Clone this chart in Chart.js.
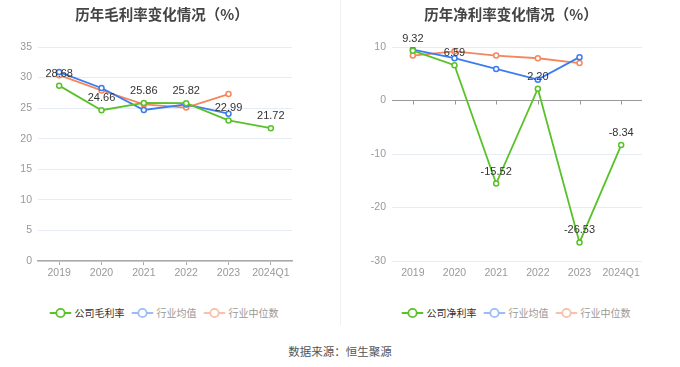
<!DOCTYPE html>
<html>
<head>
<meta charset="utf-8">
<script src="https://cdn.jsdelivr.net/npm/chart.js@4"></script>
<style>
  body { margin: 0; background: #fff; font-family: "Liberation Sans", "Noto Sans CJK SC", sans-serif; }
  #wrap { position: relative; width: 680px; height: 367px; overflow: hidden; }
  canvas { position: absolute; top: 0; }
  .title { position: absolute; top: 3px; font: bold 14.5px "Noto Sans CJK SC", sans-serif; color: #444; white-space: nowrap; transform: translateX(-50%); }
  .legend { position: absolute; top: 305px; display: flex; transform: translateX(-50%); white-space: nowrap; font: 10px "Noto Sans CJK SC", sans-serif; }
  .legend span { display: flex; align-items: center; margin-right: 7px; }
  .legend span:last-child { margin-right: 0; }
  .legend svg { margin-right: 3px; }
  #sep { position: absolute; left: 340px; top: 0; width: 1px; height: 325px; background: #f0f0f0; }
  #src { position: absolute; top: 343px; left: 340px; transform: translateX(-50%); font: 11.5px "Noto Sans CJK SC", sans-serif; color: #555; white-space: nowrap; }
</style>
</head>
<body>
<div id="wrap">
  <canvas id="gross" width="340" height="290" style="left:0"></canvas>
  <canvas id="net" width="340" height="290" style="left:340px"></canvas>
  <div class="title" style="left:162px">历年毛利率变化情况（%）</div>
  <div class="title" style="left:511px">历年净利率变化情况（%）</div>
  <div id="sep"></div>
  <div class="legend" id="legGross" style="left:164px"></div>
  <div class="legend" id="legNet" style="left:516px"></div>
  <div id="src">数据来源：恒生聚源</div>
</div>
<script>
var years = ["2019", "2020", "2021", "2022", "2023", "2024Q1"];

var grossCompany = [28.68, 24.66, 25.86, 25.82, 22.99, 21.72];
var grossAvg = [30.9, 28.3, 24.7, 25.6, 24.1, null];
var grossMedian = [30.4, 27.9, 25.6, 25.1, 27.3, null];

var netCompany = [9.32, 6.59, -15.52, 2.20, -26.53, -8.34];
var netAvg = [9.5, 7.9, 5.9, 3.9, 8.1, null];
var netMedian = [8.4, 9.2, 8.4, 7.9, 7.0, null];

var grossRange = [0, 35, 5];
var netRange = [-30, 10, 10];

var green = "#5ac229", blue = "#3b7cf0", orange = "#f5875d";

// value labels above the company line
var valueLabels = {
  id: "valueLabels",
  afterDatasetsDraw: function(chart) {
    var ctx = chart.ctx;
    var meta = chart.getDatasetMeta(0);
    var vals = chart.data.datasets[0].data;
    ctx.save();
    ctx.font = "11px 'Liberation Sans', sans-serif";
    ctx.fillStyle = "#333";
    ctx.textAlign = "center";
    ctx.textBaseline = "middle";
    meta.data.forEach(function(pt, i) {
      ctx.fillText(vals[i].toFixed(2), pt.x, pt.y - 12);
    });
    ctx.restore();
  }
};

// small tick marks on the zero line
var zeroTicks = {
  id: "zeroTicks",
  beforeDatasetsDraw: function(chart) {
    if (!chart.options.plugins.zeroTicks.on) return;
    var ctx = chart.ctx, x = chart.scales.x, y0 = chart.scales.y.getPixelForValue(0);
    ctx.save();
    ctx.strokeStyle = "#999";
    ctx.lineWidth = 1;
    for (var i = 0; i < years.length; i++) {
      var px = Math.round(x.getPixelForValue(i)) + 0.5;
      ctx.beginPath();
      ctx.moveTo(px, y0);
      ctx.lineTo(px, y0 + 4);
      ctx.stroke();
    }
    ctx.restore();
  }
};

function ds(label, data, color, order) {
  return {
    label: label, data: data, borderColor: color, backgroundColor: "#fff",
    borderWidth: 1.8, pointRadius: 2.5, pointBorderWidth: 1.5, pointBackgroundColor: "#fff",
    pointBorderColor: color, tension: 0, order: order, spanGaps: false
  };
}

function makeChart(id, names, company, avg, median, range, yWidth, padRight, zero) {
  return new Chart(id, {
    type: "line",
    data: {
      labels: years,
      datasets: [
        ds(names[0], company, green, 0),
        ds(names[1], avg, blue, 1),
        ds(names[2], median, orange, 2)
      ]
    },
    plugins: [valueLabels, zeroTicks],
    options: {
      responsive: false,
      animation: false,
      layout: { padding: { top: 47, right: padRight, left: 0, bottom: 0 } },
      plugins: {
        legend: { display: false },
        title: { display: false },
        tooltip: { enabled: false },
        zeroTicks: { on: zero }
      },
      scales: {
        x: {
          offset: true,
          grid: { display: !zero, drawOnChartArea: false, drawTicks: !zero, tickLength: 4, color: "#aaa", offset: false },
          border: { display: !zero, color: "#aaa", width: 1.5 },
          ticks: { color: "#999", padding: zero ? 6 : 2, minRotation: 0, maxRotation: 0, autoSkip: false,
                   font: { size: 10.5, family: "'Liberation Sans', sans-serif" } },
          afterFit: function(s) { s.height = 29; }
        },
        y: {
          min: range[0], max: range[1],
          ticks: { stepSize: range[2], color: "#999", padding: 6, font: { size: 10.5, family: "'Liberation Sans', sans-serif" } },
          grid: {
            drawTicks: false,
            color: function(c) { return zero && c.tick.value === 0 ? "#999" : "#e6ebf5"; }
          },
          border: { display: false },
          afterFit: function(s) { s.width = yWidth; }
        }
      }
    }
  });
}

var c1 = makeChart("gross", ["公司毛利率", "行业均值", "行业中位数"], grossCompany, grossAvg, grossMedian, grossRange, 38, 48, false);
var c2 = makeChart("net", ["公司净利率", "行业均值", "行业中位数"], netCompany, netAvg, netMedian, netRange, 52, 38, true);

// legend built from the chart datasets
function legend(chart, el) {
  var faded = [green, "#9dbcf6", "#f9c0aa"];
  var text = ["#333", "#999", "#999"];
  chart.data.datasets.forEach(function(d, i) {
    var s = document.createElement("span");
    s.innerHTML = '<svg width="22" height="12"><line x1="0" y1="6" x2="22" y2="6" stroke="' + faded[i] +
      '" stroke-width="2"/><circle cx="11" cy="6" r="4.2" fill="#fff" stroke="' + faded[i] + '" stroke-width="1.8"/></svg>';
    var t = document.createElement("b");
    t.style.fontWeight = "normal";
    t.style.color = text[i];
    t.textContent = d.label;
    s.appendChild(t);
    el.appendChild(s);
  });
}
legend(c1, document.getElementById("legGross"));
legend(c2, document.getElementById("legNet"));
</script>
</body>
</html>
